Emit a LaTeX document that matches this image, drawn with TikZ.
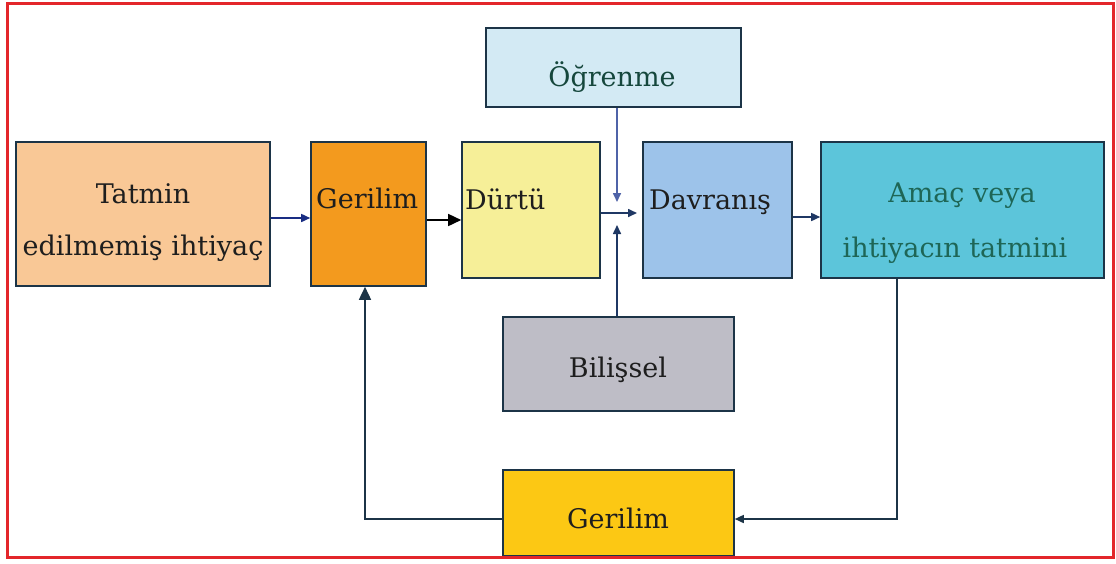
\documentclass[tikz,border=0pt]{standalone}
\usepackage{fontspec}
\setmainfont{DejaVu Serif}
\usetikzlibrary{arrows.meta}
\definecolor{frame}{HTML}{E3262A}
\definecolor{edge}{HTML}{1C3447}
\definecolor{cPeach}{HTML}{F9C896}
\definecolor{cOrange}{HTML}{F39A1E}
\definecolor{cYellow}{HTML}{F6EF98}
\definecolor{cSky}{HTML}{D3EAF4}
\definecolor{cBlue}{HTML}{9DC3EA}
\definecolor{cTeal}{HTML}{5CC5DA}
\definecolor{cGray}{HTML}{BEBDC6}
\definecolor{cGold}{HTML}{FCC814}
\definecolor{ink}{HTML}{1E1E1E}
\definecolor{tealink}{HTML}{1E6656}
\definecolor{navy}{HTML}{1F3864}
\definecolor{lineblue}{HTML}{4F63A8}
\tikzset{
  box/.style={draw=edge, line width=1.6pt},
  lbl/.style={font=\fontsize{27}{30}\selectfont, text=ink, inner sep=0pt},
  link/.style={line width=1.6pt},
  small/.style={-{Triangle[length=9pt,width=8pt]}},
  big/.style={-{Triangle[length=13pt,width=12pt]}},
}
\begin{document}
\begin{tikzpicture}[x=1pt,y=-1pt]
\useasboundingbox (0,0) rectangle (1116,563);
\fill[white] (0,0) rectangle (1116,563);

% boxes
\node[box, fill=cPeach, minimum width=254pt, minimum height=144pt, inner sep=0pt] (tatmin) at (143,214) {};
\node[box, fill=cOrange, minimum width=115pt, minimum height=144pt, inner sep=0pt] (geri) at (368.5,214) {};
\node[box, fill=cYellow, minimum width=138pt, minimum height=136pt, inner sep=0pt] (durtu) at (531,210) {};
\node[box, fill=cBlue, minimum width=149pt, minimum height=136pt, inner sep=0pt] (davr) at (717.5,210) {};
\node[box, fill=cTeal, minimum width=283pt, minimum height=136pt, inner sep=0pt] (amac) at (962.5,210) {};
\node[box, fill=cSky, minimum width=255pt, minimum height=79pt, inner sep=0pt] (ogren) at (613.5,67.5) {};
\node[box, fill=cGray, minimum width=231pt, minimum height=94pt, inner sep=0pt] (bilis) at (618.5,364) {};
\node[box, fill=cGold, minimum width=231pt, minimum height=86pt, inner sep=0pt] (geri2) at (618.5,513) {};

% labels
\node[lbl, anchor=base] at (143,203) {Tatmin};
\node[lbl, anchor=base] at (143,255) {edilmemiş ihtiyaç};
\node[lbl, anchor=base west] at (316,208) {Gerilim};
\node[lbl, anchor=base west] at (465,209) {Dürtü};
\node[lbl, anchor=base west] at (649,209) {Davranış};
\node[lbl, anchor=base, text=tealink!70!black] at (612,86) {Öğrenme};
\node[lbl, anchor=base, text=tealink] at (962,202) {Amaç veya};
\node[lbl, anchor=base, text=tealink] at (955,257) {ihtiyacın tatmini};
\node[lbl, anchor=base] at (618,377) {Bilişsel};
\node[lbl, anchor=base] at (618,528) {Gerilim};

% connectors
\coordinate (meet) at (637,213);
\draw[link, small, color=navy!80!blue] (tatmin.east |- 0,218) -- (geri.west |- 0,218);
\draw[link, big, color=black] (geri.east |- 0,220) -- (durtu.west |- 0,220);
\draw[link, small, color=navy] (durtu.east |- meet) -- (meet);
\draw[link, small, color=lineblue] (ogren.south -| 617,0) -- (617,202);
\draw[link, small, color=navy] (bilis.north -| 617,0) -- (617,225);
\draw[link, small, color=navy] (davr.east |- 0,217) -- (amac.west |- 0,217);
\draw[link, small, color=edge] (amac.south -| 897,0) -- (897,519) -- (geri2.east |- 0,519);
\draw[link, big, color=edge] (geri2.west |- 0,519) -- (365,519) -- (geri.south -| 365,0);

% outer frame
\draw[frame, line width=3pt] (7,3) rectangle (1113,557);
\end{tikzpicture}
\end{document}
